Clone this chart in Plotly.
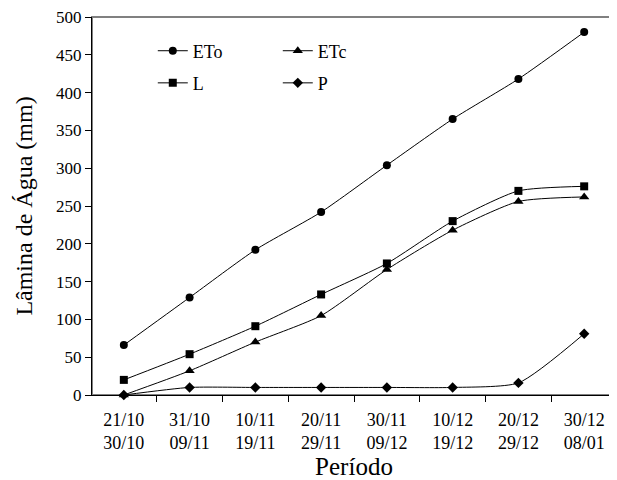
import plotly.graph_objects as go

periodos = ["21/10<br>30/10", "31/10<br>09/11", "10/11<br>19/11", "20/11<br>29/11",
            "30/11<br>09/12", "10/12<br>19/12", "20/12<br>29/12", "30/12<br>08/01"]
eto = [66, 129, 192, 242, 304, 365, 418, 480]
etc = [0, 32, 70, 105, 166, 218, 256, 262]
lam = [20, 54, 91, 133, 174, 230, 270, 276]
prec = [0, 10, 10, 10, 10, 10, 16, 81]

FONT = "Liberation Serif"

fig = go.Figure()
series = [
    ("ETo", eto, "circle", 8, "legend"),
    ("ETc", etc, "triangle-up", 9, "legend"),
    ("L", lam, "square", 8, "legend2"),
    ("P", prec, "diamond", 8, "legend2"),
]
for name, vals, sym, sz, lg in series:
    fig.add_trace(go.Scatter(
        x=periodos, y=vals, name=name, mode="lines+markers",
        line=dict(color="black", width=1, shape="spline", smoothing=0.6),
        marker=dict(symbol=sym, size=sz, color="black"),
        cliponaxis=False, legend=lg,
    ))

fig.add_shape(type="rect", xref="paper", yref="paper", x0=0, x1=1, y0=0, y1=1,
              line=dict(color="#808080", width=2), layer="below")

leg_common = dict(orientation="h", xanchor="left", yanchor="middle",
                  bgcolor="rgba(0,0,0,0)", font=dict(family=FONT, size=18, color="black"),
                  entrywidth=80, entrywidthmode="pixels", itemwidth=30, tracegroupgap=0)

fig.update_layout(
    width=609, height=472,
    margin=dict(l=84, r=1, t=9, b=85, autoexpand=False),
    plot_bgcolor="white", paper_bgcolor="white",
    font=dict(family=FONT, size=17, color="black"),
    showlegend=True,
    legend=dict(x=0.116, y=0.91, **leg_common),
    legend2=dict(x=0.116, y=0.825, **leg_common),
    xaxis=dict(
        type="category", tickson="boundaries", ticks="outside", ticklen=6,
        tickcolor="black", showline=True, linecolor="black", linewidth=1,
        showgrid=False, zeroline=False, automargin=False,
        ticklabelstandoff=8, ticklabeloverflow="allow",
        tickfont=dict(family=FONT, size=18, color="black"),
        title=dict(text="Período", font=dict(family=FONT, size=25, color="black"), standoff=4),
    ),
    yaxis=dict(
        range=[0, 500], dtick=50, ticks="outside", ticklen=6, tickcolor="black",
        showline=True, linecolor="black", linewidth=1, showgrid=False, zeroline=False,
        automargin=False, ticklabeloverflow="allow",
        tickfont=dict(family=FONT, size=17, color="black"),
        title=dict(text="Lâmina de Água (mm)", font=dict(family=FONT, size=24, color="black"), standoff=16),
    ),
)

fig.write_html("out.html")
